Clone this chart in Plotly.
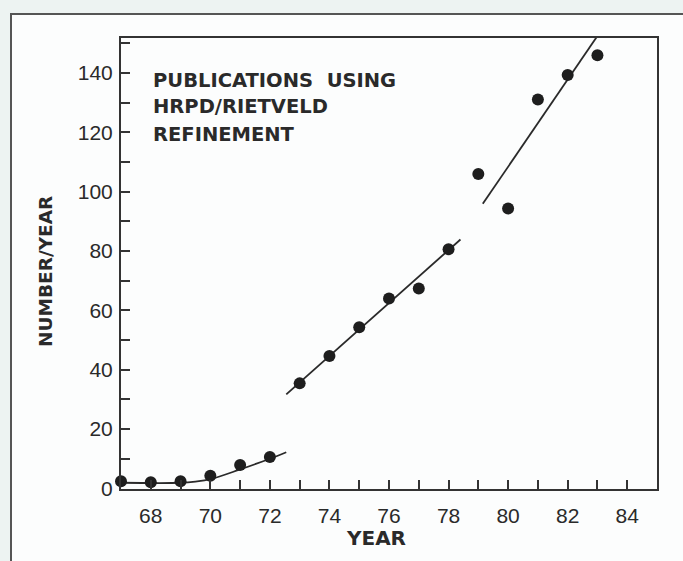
import plotly.graph_objects as go

# ---- data ----
years = [67, 68, 69, 70, 71, 72, 73, 74, 75, 76, 77, 78, 79, 80, 81, 82, 83]
counts = [2.4, 2.1, 2.4, 4.3, 7.9, 10.6, 35.4, 44.6, 54.3, 64.0, 67.4, 80.6, 106.0, 94.3, 131.1, 139.3, 146.0]

# hand-drawn trend lines
curve1_x = [67, 69, 69.5, 70, 71, 72, 72.55]
curve1_y = [1.9, 1.9, 2.3, 3.1, 6.4, 10.0, 12.2]
line2_x = [72.55, 78.4]
line2_y = [31.7, 83.9]
line3_x = [79.15, 83.0]
line3_y = [95.9, 152.5]

ytick_vals = [0, 20, 40, 60, 80, 100, 120, 140]
xtick_vals = [68, 70, 72, 74, 76, 78, 80, 82, 84]

ink = "#2a2a2a"
text_font = "Liberation Sans, Arial, sans-serif"
bold_font = "DejaVu Sans, Liberation Sans, sans-serif"
outer_bg = "#edf3f2"

fig = go.Figure()
for lx, ly in [(curve1_x, curve1_y), (line2_x, line2_y), (line3_x, line3_y)]:
    fig.add_trace(go.Scatter(x=lx, y=ly, mode="lines",
                             line=dict(color=ink, width=1.8, shape="spline"),
                             hoverinfo="skip", showlegend=False))
fig.add_trace(go.Scatter(x=years, y=counts, mode="markers",
                         marker=dict(color="#1e1e1e", size=12),
                         cliponaxis=False, showlegend=False))

L, R, T, B = 121, 26, 38, 72
fig.update_layout(
    width=683, height=561,
    margin=dict(l=L, r=R, t=T, b=B, pad=0),
    paper_bgcolor=outer_bg,
    plot_bgcolor="white",
    showlegend=False,
    font=dict(family=text_font, color=ink),
)

fig.update_xaxes(
    range=[67, 85], showgrid=False, zeroline=False,
    showline=True, linecolor="#333", linewidth=2, mirror=True,
    tickvals=xtick_vals, ticks="inside", ticklen=9, tickwidth=1.5, tickcolor="#333",
    minor=dict(dtick=1, tick0=67, ticks="inside", ticklen=9, tickwidth=1.5, tickcolor="#333"),
    tickfont=dict(size=21, color=ink, family=text_font),
    ticklabelstandoff=7,
)
fig.update_yaxes(
    range=[-0.2, 151.8], showgrid=False, zeroline=False,
    showline=True, linecolor="#333", linewidth=2, mirror=True,
    tickvals=ytick_vals, ticks="inside", ticklen=9, tickwidth=1.5, tickcolor="#333",
    minor=dict(dtick=10, tick0=0, ticks="inside", ticklen=9, tickwidth=1.5, tickcolor="#333"),
    tickfont=dict(size=21, color=ink, family=text_font),
    ticklabelstandoff=2,
)

pw = 683 - L - R
ph = 561 - T - B

def px(xp):
    return (xp - L) / pw

def py(yp):
    return (561 - B - yp) / ph

# outer frame
fig.add_shape(type="rect", xref="paper", yref="paper",
              x0=px(11), x1=px(700), y0=py(600), y1=py(14),
              line=dict(color="#555", width=2), fillcolor="#fcfdfd", layer="below")

# inset caption
for i, t in enumerate(["PUBLICATIONS  USING", "HRPD/RIETVELD", "REFINEMENT"]):
    fig.add_annotation(x=px(151), y=py(80 + 27 * i), xref="paper", yref="paper",
                       text=t, showarrow=False, xanchor="left", yanchor="middle",
                       font=dict(size=19.5, family=bold_font, color=ink, weight="bold"))

# axis titles
fig.add_annotation(x=px(45), y=py(272), xref="paper", yref="paper",
                   text="NUMBER/YEAR", textangle=-90, showarrow=False,
                   xanchor="center", yanchor="middle",
                   font=dict(size=18.5, family=bold_font, color=ink, weight="bold"))
fig.add_annotation(x=px(376), y=py(538), xref="paper", yref="paper",
                   text="YEAR", showarrow=False, xanchor="center", yanchor="middle",
                   font=dict(size=20, family=bold_font, color=ink, weight="bold"))

fig.write_html(
    "out.html",
    config={"displayModeBar": False},
    post_script="document.body.style.margin='0';document.body.style.background='%s';" % outer_bg,
)
